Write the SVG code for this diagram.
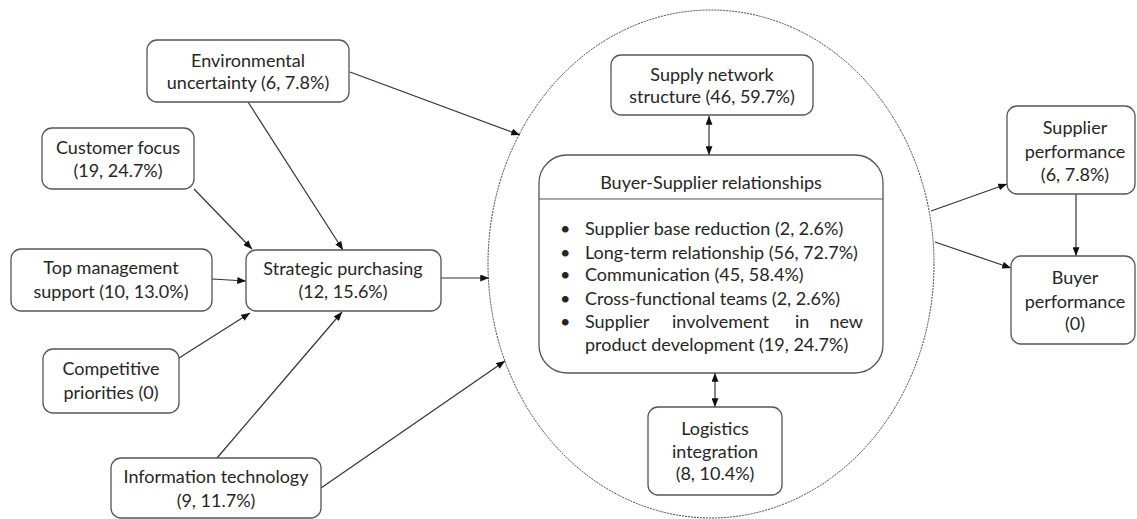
<svg xmlns="http://www.w3.org/2000/svg" width="1137" height="519" viewBox="0 0 1137 519">
  <style>
    .box { fill: #ffffff; stroke: #555555; stroke-width: 1.3; }
    .lbl { font-family: Lato, "Liberation Sans", sans-serif; font-size: 18px; fill: #262626; text-anchor: middle; }
    .item { font-family: Lato, "Liberation Sans", sans-serif; font-size: 18px; fill: #262626; }
    .conn { stroke: #333333; stroke-width: 1.2; fill: none; marker-end: url(#arrow); }
    .both { marker-start: url(#arrowStart); }
  </style>
  <defs>
    <marker id="arrow" viewBox="0 0 10 8" refX="10" refY="4" markerWidth="9" markerHeight="7" markerUnits="userSpaceOnUse" orient="auto">
      <path d="M0,0 L10,4 L0,8 Z" fill="#111111"/>
    </marker>
    <marker id="arrowStart" viewBox="0 0 10 8" refX="0" refY="4" markerWidth="9" markerHeight="7" markerUnits="userSpaceOnUse" orient="auto">
      <path d="M10,0 L0,4 L10,8 Z" fill="#111111"/>
    </marker>
  </defs>
  <rect width="1137" height="519" fill="#ffffff"/>

  <!-- dashed boundary around the relationship core -->
  <ellipse id="core-boundary" cx="711" cy="264" rx="223" ry="254" fill="none" stroke="#444444" stroke-width="1" stroke-dasharray="2 1"/>

  <g id="connectors">
    <line class="conn" x1="350" y1="72" x2="520" y2="135"/>
    <line class="conn" x1="248" y1="102" x2="343" y2="250"/>
    <line class="conn" x1="194" y1="189" x2="252" y2="249"/>
    <line class="conn" x1="212" y1="279" x2="246" y2="281"/>
    <line class="conn" x1="179" y1="358" x2="250" y2="313"/>
    <line class="conn" x1="217" y1="458" x2="342" y2="312"/>
    <line class="conn" x1="321" y1="488" x2="505" y2="361"/>
    <line class="conn" x1="441" y1="278" x2="489" y2="278"/>
    <line class="conn both" x1="709" y1="116" x2="709" y2="155"/>
    <line class="conn both" x1="715" y1="373" x2="715" y2="407"/>
    <line class="conn" x1="931" y1="211" x2="1007" y2="184"/>
    <line class="conn" x1="935" y1="242" x2="1011" y2="268"/>
    <line class="conn" x1="1076" y1="194" x2="1076" y2="256"/>
  </g>

  <g id="environmental-uncertainty">
    <rect class="box" x="147" y="40" width="202" height="62" rx="10"/>
    <text class="lbl" x="248" y="67">Environmental</text>
    <text class="lbl" x="248" y="89">uncertainty (6, 7.8%)</text>
  </g>

  <g id="customer-focus">
    <rect class="box" x="42" y="128" width="152" height="61" rx="10"/>
    <text class="lbl" x="118" y="154">Customer focus</text>
    <text class="lbl" x="118" y="177">(19, 24.7%)</text>
  </g>

  <g id="top-management-support">
    <rect class="box" x="11" y="249" width="201" height="62" rx="10"/>
    <text class="lbl" x="111" y="274">Top management</text>
    <text class="lbl" x="111" y="298">support (10, 13.0%)</text>
  </g>

  <g id="strategic-purchasing">
    <rect class="box" x="246" y="250" width="195" height="61" rx="10"/>
    <text class="lbl" x="343" y="275">Strategic purchasing</text>
    <text class="lbl" x="343" y="298">(12, 15.6%)</text>
  </g>

  <g id="competitive-priorities">
    <rect class="box" x="43" y="349" width="136" height="64" rx="10"/>
    <text class="lbl" x="111" y="375">Competitive</text>
    <text class="lbl" x="111" y="399">priorities (0)</text>
  </g>

  <g id="information-technology">
    <rect class="box" x="111" y="458" width="210" height="60" rx="10"/>
    <text class="lbl" x="216" y="483">Information technology</text>
    <text class="lbl" x="216" y="507">(9, 11.7%)</text>
  </g>

  <g id="supply-network-structure">
    <rect class="box" x="611" y="55" width="202" height="60" rx="10"/>
    <text class="lbl" x="712" y="81">Supply network</text>
    <text class="lbl" x="712" y="103">structure (46, 59.7%)</text>
  </g>

  <g id="buyer-supplier-relationships">
    <rect class="box" x="539" y="155" width="344" height="218" rx="28"/>
    <line x1="539" y1="199" x2="883" y2="199" stroke="#555555" stroke-width="1.2"/>
    <text class="lbl" x="711" y="189">Buyer-Supplier relationships</text>
    <g class="item">
      <text x="560" y="235">•</text><text x="585" y="235">Supplier base reduction (2, 2.6%)</text>
      <text x="560" y="259">•</text><text x="585" y="259">Long-term relationship (56, 72.7%)</text>
      <text x="560" y="281">•</text><text x="585" y="281">Communication (45, 58.4%)</text>
      <text x="560" y="305">•</text><text x="585" y="305">Cross-functional teams (2, 2.6%)</text>
      <text x="560" y="328">•</text><text x="585" y="328">Supplier</text>
      <text x="672" y="328">involvement</text>
      <text x="795" y="328">in</text>
      <text x="863" y="328" text-anchor="end">new</text>
      <text x="585" y="351">product development (19, 24.7%)</text>
    </g>
  </g>

  <g id="logistics-integration">
    <rect class="box" x="648" y="407" width="134" height="88" rx="10"/>
    <text class="lbl" x="715" y="435">Logistics</text>
    <text class="lbl" x="715" y="458">integration</text>
    <text class="lbl" x="715" y="480">(8, 10.4%)</text>
  </g>

  <g id="supplier-performance">
    <rect class="box" x="1007" y="106" width="128" height="88" rx="10"/>
    <text class="lbl" x="1075" y="134">Supplier</text>
    <text class="lbl" x="1075" y="158">performance</text>
    <text class="lbl" x="1075" y="181">(6, 7.8%)</text>
  </g>

  <g id="buyer-performance">
    <rect class="box" x="1011" y="256" width="124" height="88" rx="10"/>
    <text class="lbl" x="1075" y="284">Buyer</text>
    <text class="lbl" x="1075" y="308">performance</text>
    <text class="lbl" x="1075" y="330">(0)</text>
  </g>
</svg>
